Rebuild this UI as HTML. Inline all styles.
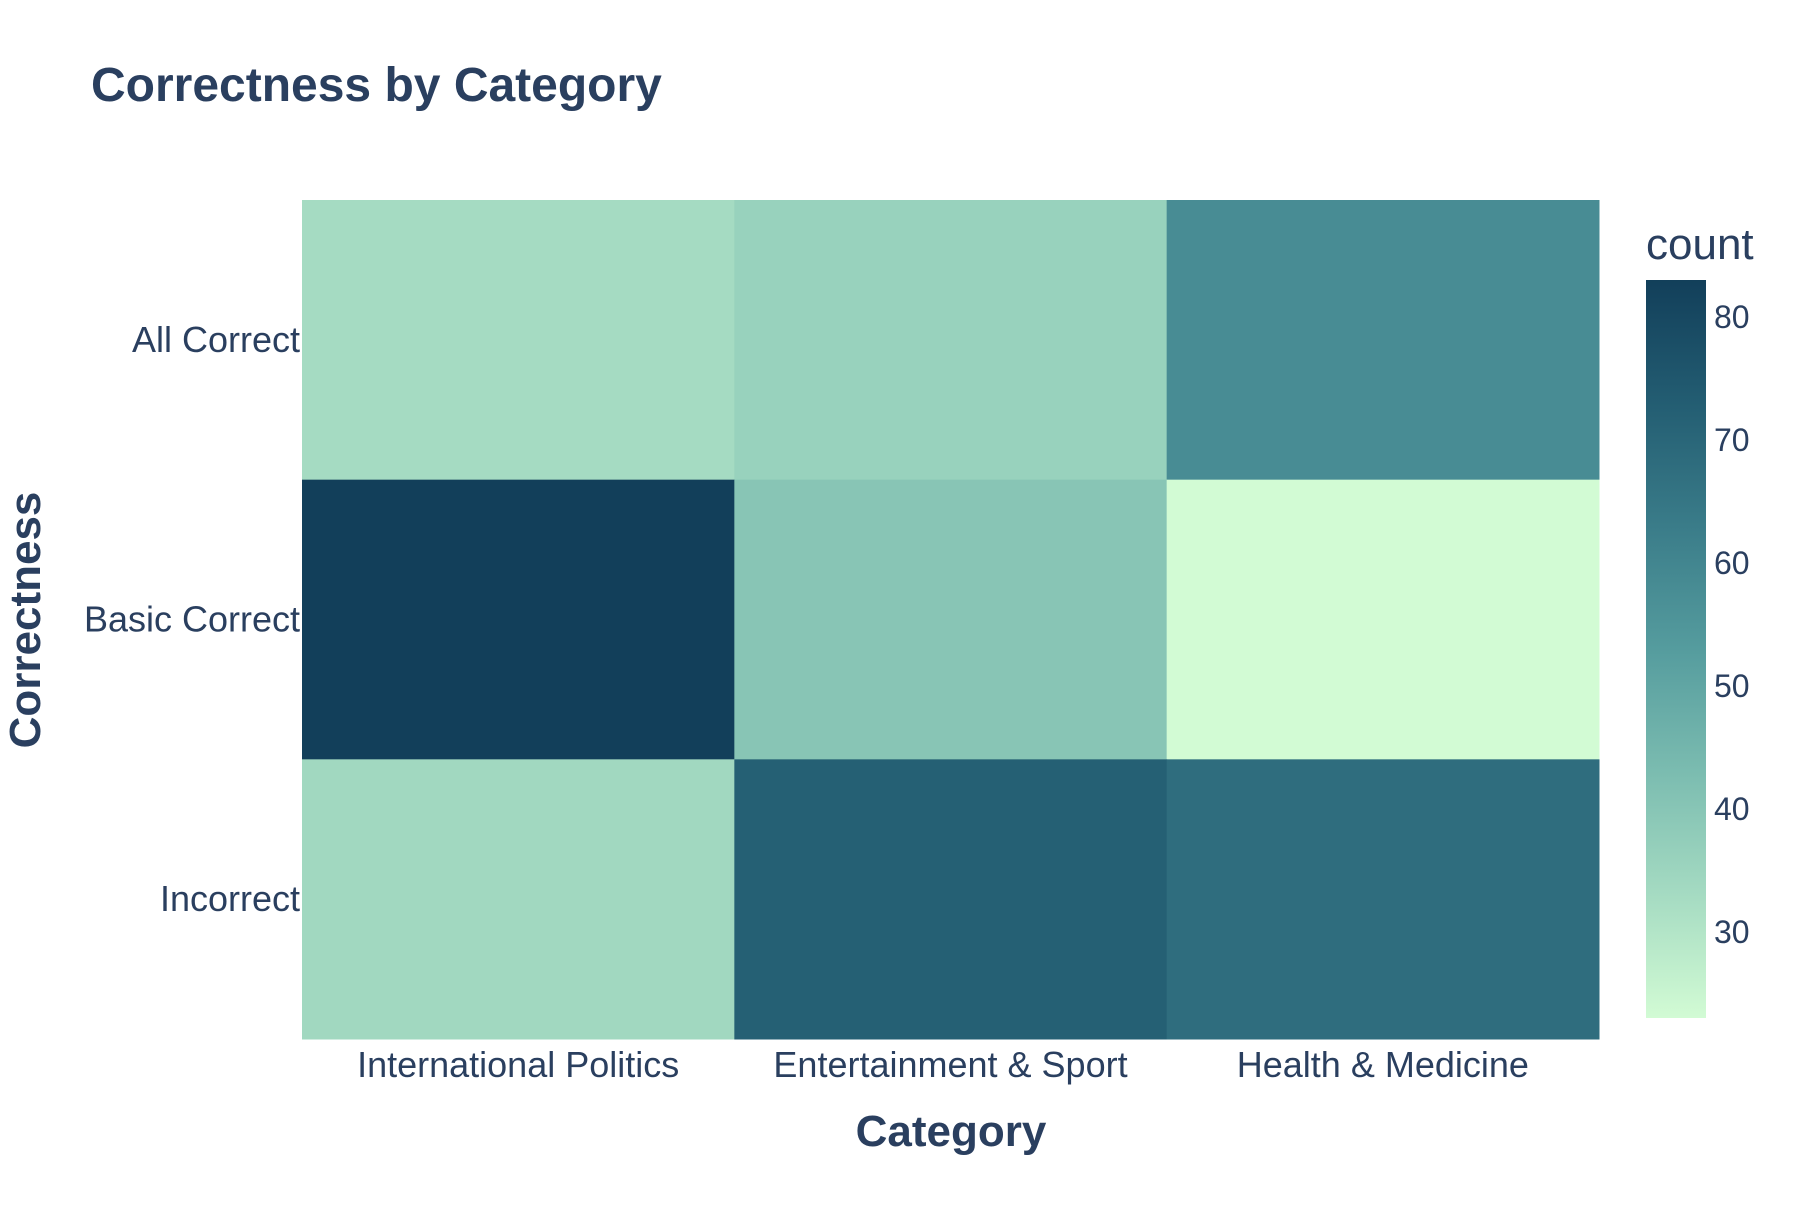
<!DOCTYPE html>
<html><head><meta charset="utf-8"><style>
body{margin:0;background:#fff;}
svg text{font-family:"Liberation Sans",Arial,sans-serif;fill:#2a3f5f;}
</style></head><body>
<svg id="chart" width="1800" height="1200" xmlns="http://www.w3.org/2000/svg">
<rect width="1800" height="1200" fill="#fff"/>
<text x="91" y="101" font-size="48" font-weight="bold">Correctness by Category</text>
<g id="cells"></g>
<g id="xticks"></g>
<g id="yticks"></g>
<text x="951" y="1146" font-size="44" font-weight="bold" text-anchor="middle">Category</text>
<text transform="translate(40,620) rotate(-90)" font-size="44" font-weight="bold" text-anchor="middle">Correctness</text>
<text x="1646" y="259" font-size="44">count</text>
<defs><linearGradient id="cg" x1="0" y1="1" x2="0" y2="0">
<stop offset="0" stop-color="rgb(210,251,212)"/><stop offset="0.1667" stop-color="rgb(165,219,194)"/>
<stop offset="0.3333" stop-color="rgb(123,188,176)"/><stop offset="0.5" stop-color="rgb(85,156,158)"/>
<stop offset="0.6667" stop-color="rgb(58,124,137)"/><stop offset="0.8333" stop-color="rgb(35,93,114)"/>
<stop offset="1" stop-color="rgb(18,63,90)"/></linearGradient></defs>
<rect x="1646" y="280" width="60" height="738" fill="url(#cg)"/>
<g id="cticks"></g>
</svg>
<script>
const categories=["International Politics","Entertainment & Sport","Health & Medicine"];
const rows=["All Correct","Basic Correct","Incorrect"];
const rowAllCorrect=[33,36,58];
const rowBasicCorrect=[83,40,23];
const rowIncorrect=[34,72,68];
const colorTicks=[30,40,50,60,70,80];
const values=[rowAllCorrect,rowBasicCorrect,rowIncorrect];
const zmin=Math.min(...values.flat()), zmax=Math.max(...values.flat());
const X0=302,X1=1599,Y0=200,Y1=1039,CB0=280,CB1=1018;
const cw=(X1-X0)/categories.length, rh=(Y1-Y0)/rows.length;
const xPos=i=>X0+i*cw, yPos=j=>Y0+j*rh;
const cbY=v=>CB1-(v-zmin)/(zmax-zmin)*(CB1-CB0);
const stops=[[210,251,212],[165,219,194],[123,188,176],[85,156,158],[58,124,137],[35,93,114],[18,63,90]];
function color(v){let t=(v-zmin)/(zmax-zmin)*(stops.length-1);let i=Math.min(Math.floor(t),stops.length-2);let f=t-i;
const c=stops[i].map((a,k)=>Math.round(a+(stops[i+1][k]-a)*f));return `rgb(${c})`;}
const NS="http://www.w3.org/2000/svg";
function mk(tag,attrs,parent){const e=document.createElementNS(NS,tag);for(const k in attrs)e.setAttribute(k,attrs[k]);parent.appendChild(e);return e;}
const cells=document.getElementById('cells');
values.forEach((row,j)=>row.forEach((v,i)=>{
 const r=mk('rect',{x:xPos(i),y:yPos(j),width:cw+0.5,height:rh+0.5,fill:color(v)},cells);
 
 
}));
const xt=document.getElementById('xticks');
categories.forEach((c,i)=>{const t=mk('text',{x:xPos(i)+cw/2,y:1077,'font-size':36,'text-anchor':'middle'},xt);t.textContent=c;
 
 });
const yt=document.getElementById('yticks');
rows.forEach((r,j)=>{const t=mk('text',{x:300,y:yPos(j)+rh/2+12,'font-size':36,'text-anchor':'end'},yt);t.textContent=r;
 
 });
const ct=document.getElementById('cticks');
colorTicks.forEach(v=>{const t=mk('text',{x:1714,y:cbY(v)+11,'font-size':32},ct);t.textContent=v;
 
 });
</script>
</body></html>
